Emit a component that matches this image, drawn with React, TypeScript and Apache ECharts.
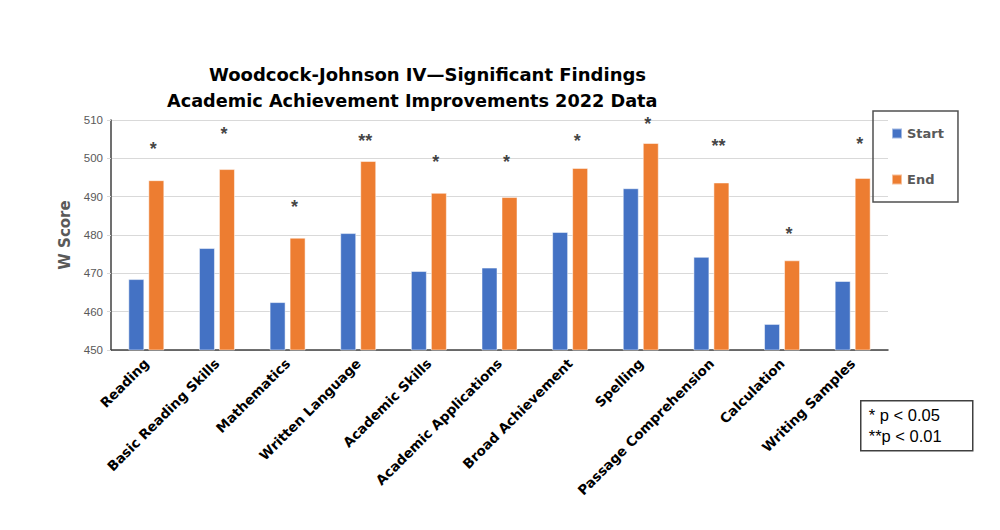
import React, { useEffect, useRef } from "react";
import * as echarts from "echarts";

const categories = [
  "Reading",
  "Basic Reading Skills",
  "Mathematics",
  "Written Language",
  "Academic Skills",
  "Academic Applications",
  "Broad Achievement",
  "Spelling",
  "Passage Comprehension",
  "Calculation",
  "Writing Samples",
];
const startValues = [468.5, 476.6, 462.5, 480.5, 470.6, 471.5, 480.8, 492.2, 474.3, 456.8, 468.0];
const endValues = [494.3, 497.2, 479.3, 499.3, 491.0, 489.9, 497.5, 504.0, 493.7, 473.4, 494.9];
const sigMarks = ["*", "*", "*", "**", "*", "*", "*", "*", "**", "*", "*"];
const sigLevels = [503.2, 507.1, 488.1, 505.3, 499.8, 499.8, 505.3, 509.7, 504.0, 481.0, 504.5];
const yTicks = { min: 450, max: 510, interval: 10 };
const titleLines = [
  "Woodcock-Johnson IV\u2014Significant Findings",
  "Academic Achievement Improvements 2022 Data",
];
const noteLines = ["* p < 0.05", "**p < 0.01"];

const FONT = "DejaVu Sans";

export default function App() {
  const ref = useRef<HTMLDivElement>(null);
  useEffect(() => {
    if (!ref.current) return;
    const chart = echarts.init(ref.current, null, { renderer: "svg" });
    chart.setOption({
      animation: false,
      backgroundColor: "#ffffff",
      title: [
        {
          text: titleLines[0],
          left: 204,
          top: 60,
          textStyle: { fontFamily: FONT, fontWeight: "bold", fontSize: 18, color: "#000" },
        },
        {
          text: titleLines[1],
          left: 162,
          top: 87,
          textStyle: { fontFamily: FONT, fontWeight: "bold", fontSize: 17.7, color: "#000" },
        },
      ],
      legend: {
        data: ["Start", "End"],
        orient: "vertical",
        left: 873,
        top: 111,
        padding: [16, 14, 16, 18],
        itemGap: 33,
        itemWidth: 10,
        itemHeight: 10,
        icon: "rect",
        borderColor: "#505050",
        borderWidth: 1.5,
        textStyle: { fontFamily: FONT, fontWeight: "bold", fontSize: 13, color: "#595959" },
      },
      grid: { left: 111, right: 112, top: 120, bottom: 180, containLabel: false },
      xAxis: {
        type: "category",
        data: categories,
        axisLine: { lineStyle: { color: "#404040", width: 1.5 } },
        axisTick: { show: false },
        axisLabel: {
          interval: 0,
          rotate: 45,
          margin: 11,
          fontFamily: FONT,
          fontWeight: "bold",
          fontSize: 13.5,
          color: "#000",
        },
      },
      yAxis: {
        type: "value",
        min: yTicks.min,
        max: yTicks.max,
        interval: yTicks.interval,
        name: "W Score",
        nameLocation: "middle",
        nameGap: 37,
        nameTextStyle: { fontFamily: FONT, fontWeight: "bold", fontSize: 15, color: "#595959" },
        axisLine: { show: true, lineStyle: { color: "#404040", width: 1.5 } },
        axisTick: { show: true, length: 4, lineStyle: { color: "#d9d9d9" } },
        axisLabel: { fontFamily: "Liberation Sans", fontSize: 11.5, color: "#595959", margin: 8 },
        splitLine: { lineStyle: { color: "#d9d9d9", width: 1.2 } },
      },
      series: [
        {
          name: "Start",
          type: "bar",
          data: startValues,
          barWidth: 16,
          barGap: "25%",
          itemStyle: { color: "#4472C4", borderColor: "rgba(255,255,255,0.5)", borderWidth: 1 },
        },
        {
          name: "End",
          type: "bar",
          data: endValues,
          barWidth: 16,
          itemStyle: { color: "#ED7D31", borderColor: "rgba(255,255,255,0.5)", borderWidth: 1 },
        },
        {
          name: "sig",
          type: "scatter",
          data: sigLevels,
          symbolSize: 0,
          silent: true,
          itemStyle: { color: "#000" },
          label: {
            show: true,
            position: "inside",
            offset: [7, 3],
            formatter: (p: any) => sigMarks[p.dataIndex],
            fontFamily: "Liberation Sans",
            fontWeight: "bold",
            fontSize: 18,
            color: "#111",
            textBorderWidth: 0,
            textBorderColor: "transparent",
          },
        },
      ],
      graphic: [
        {
          type: "group",
          left: 860,
          top: 400,
          children: [
            {
              type: "rect",
              shape: { x: 0, y: 0, width: 112, height: 50 },
              style: { fill: "#fff", stroke: "#404040", lineWidth: 1.5 },
            },
            {
              type: "text",
              x: 8,
              y: 4,
              style: {
                text: noteLines.join("\n"),
                fontFamily: "Liberation Sans",
                fontSize: 16.5,
                lineHeight: 21,
                fill: "#000",
              },
            },
          ],
        },
      ],
    });
    return () => chart.dispose();
  }, []);
  return (
    <div
      ref={ref}
      style={{ position: "fixed", left: 0, top: 0, width: 1000, height: 530 }}
    />
  );
}
